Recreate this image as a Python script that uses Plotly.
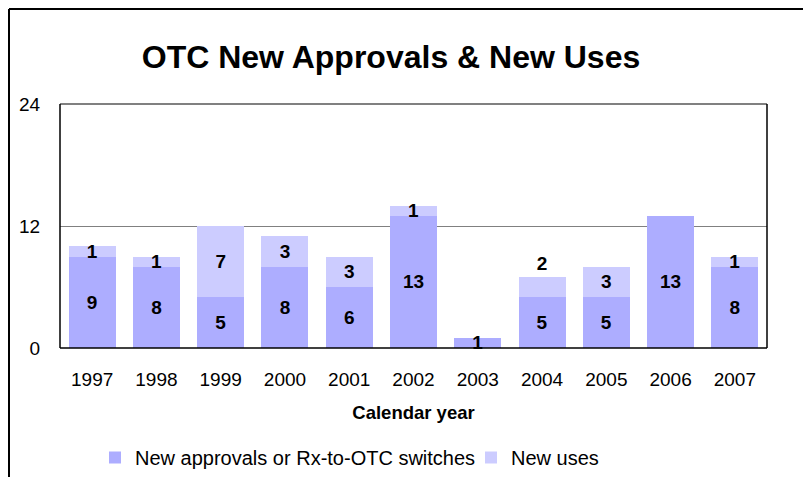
import plotly.graph_objects as go

years = ["1997", "1998", "1999", "2000", "2001", "2002", "2003", "2004", "2005", "2006", "2007"]
new_approvals = [9, 8, 5, 8, 6, 13, 1, 5, 5, 13, 8]
new_uses = [1, 1, 7, 3, 3, 1, 0, 2, 3, 0, 1]

FONT = "Liberation Sans, Arial, sans-serif"
C_APPROVALS = "#ADADFF"
C_USES = "#CCCCFF"

W, H = 803, 477
L, R, T, B = 60, 36, 104, 129

def label(v):
    return str(v) if v else ""

# small "new uses" segments carry their label above the stack
uses_pos = ["outside" if v == 2 else "inside" for v in new_uses]

label_font = dict(family=FONT, size=19, color="black", weight="bold")

fig = go.Figure()
fig.add_trace(go.Bar(
    x=years, y=new_approvals, name="New approvals or Rx-to-OTC switches",
    marker=dict(color=C_APPROVALS, line=dict(width=0)),
    text=[label(v) for v in new_approvals], textposition="inside",
    insidetextanchor="middle", constraintext="none", textangle=0,
    textfont=label_font, cliponaxis=False, legend="legend",
))
fig.add_trace(go.Bar(
    x=years, y=new_uses, name="New uses",
    marker=dict(color=C_USES, line=dict(width=0)),
    text=[label(v) for v in new_uses], textposition=uses_pos,
    insidetextanchor="middle", constraintext="none", textangle=0,
    textfont=label_font, cliponaxis=False, legend="legend2",
))

# pixel -> paper helpers for frame lines and legend placement
px = lambda v: (v - L) / (W - L - R)
py = lambda v: (H - B - v) / (H - T - B)

# outer chart frame (left and top edges)
frame = dict(color="black", width=2)
fig.add_shape(type="line", xref="paper", yref="paper",
              x0=px(9), x1=px(9), y0=py(9), y1=py(H + 5), line=frame)
fig.add_shape(type="line", xref="paper", yref="paper",
              x0=px(9), x1=px(W + 5), y0=py(9), y1=py(9), line=frame)

# plot-area border: grey top, black sides and base
fig.add_shape(type="line", xref="paper", yref="paper", x0=0, x1=1, y0=1, y1=1,
              line=dict(color="#808080", width=2), layer="above")
for x0, y0, x1, y1 in [(0, 0, 0, 1), (1, 0, 1, 1), (0, 0, 1, 0)]:
    fig.add_shape(type="line", xref="paper", yref="paper",
                  x0=x0, y0=y0, x1=x1, y1=y1,
                  line=dict(color="black", width=1.5), layer="above")

legend_style = dict(orientation="h", yanchor="top", xanchor="left",
                    font=dict(size=20), bgcolor="rgba(0,0,0,0)")

fig.update_layout(
    width=W, height=H,
    margin=dict(l=L, r=R, t=T, b=B, autoexpand=False),
    barmode="stack", bargap=0.27,
    paper_bgcolor="white", plot_bgcolor="white",
    font=dict(family=FONT, color="black"),
    title=dict(text="<b>OTC New Approvals & New Uses</b>",
               x=391 / W, xanchor="center", y=1 - 57 / H, yanchor="middle",
               font=dict(family=FONT, size=32, color="black")),
    xaxis=dict(
        showline=False, automargin=False,
        ticks="outside", ticklen=14, tickcolor="rgba(0,0,0,0)",
        tickfont=dict(size=19), showgrid=False,
        title=dict(text="<b>Calendar year</b>", font=dict(size=18.5), standoff=17),
    ),
    yaxis=dict(
        range=[0, 24], tickvals=[0, 12, 24], automargin=False,
        showline=False,
        ticks="outside", ticklen=15, tickcolor="rgba(0,0,0,0)",
        tickfont=dict(size=19),
        showgrid=True, gridcolor="#808080", gridwidth=1, zeroline=False,
    ),
    legend=dict(x=px(95), y=py(438), **legend_style),
    legend2=dict(x=px(471), y=py(438), **legend_style),
    showlegend=True,
)

fig.write_html("out.html")
